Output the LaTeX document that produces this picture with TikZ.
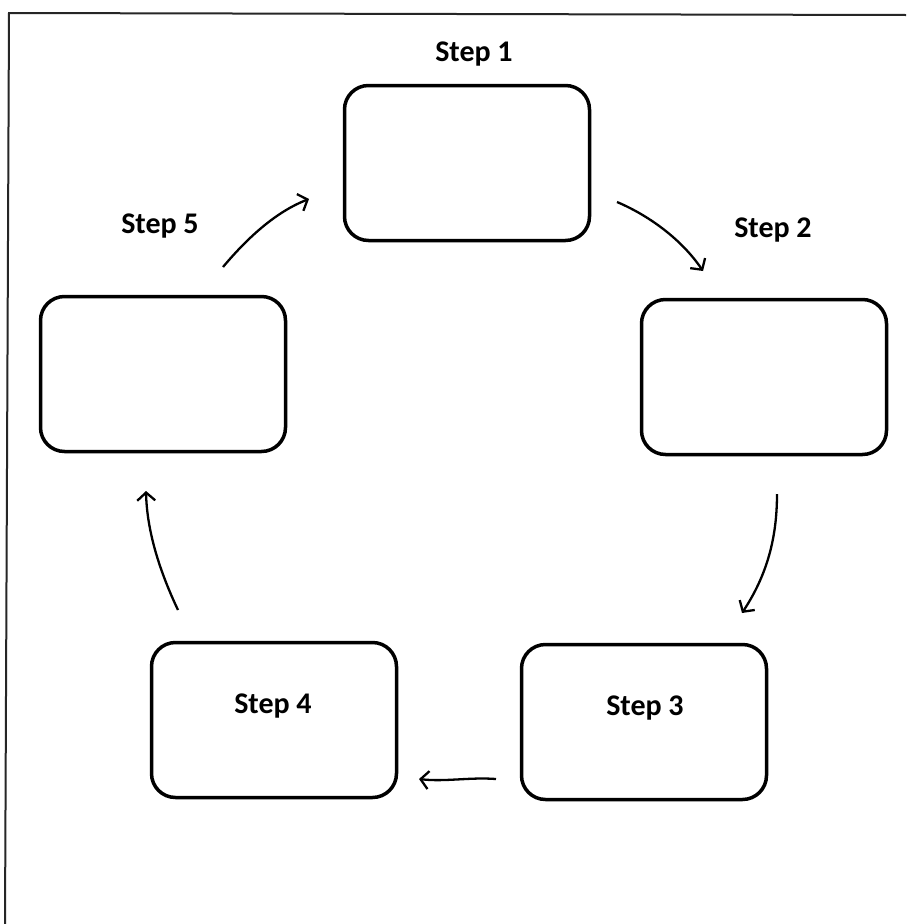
\documentclass[tikz,border=0pt]{standalone}
\usepackage{fontspec}
\setmainfont{Carlito}
\usetikzlibrary{arrows.meta}
\begin{document}
\begin{tikzpicture}[x=1pt,y=-1pt,
  stepbox/.style={draw=black,line width=3.5pt,rounded corners=24pt,minimum width=245pt,minimum height=155pt,inner sep=0pt},
  steplabel/.style={font=\bfseries\fontsize{30}{36}\selectfont,anchor=base,inner sep=0pt},
  flow/.style={line width=2.3pt,-{Straight Barb[length=8pt,width=18pt,line width=2.3pt]}},
  frame/.style={line width=2pt,draw=black!85}]
\useasboundingbox (0,0) rectangle (906,924);
\fill[white] (0,0) rectangle (906,924);
% frame (top and left edges only)
\coordinate (fTL) at (9,13);
\coordinate (fTR) at (906,15);
\coordinate (fBL) at (5,924);
\draw[frame] (fTR) -- (fTL) -- (fBL);
% boxes
\node[stepbox] (b1) at (467,163) {};
\node[stepbox] (b2) at (764,377) {};
\node[stepbox] (b3) at (644,722) {};
\node[stepbox] (b4) at (274,720) {};
\node[stepbox] (b5) at (163,374) {};
% labels
\node[steplabel] (l1) at (474,61) {Step 1};
\node[steplabel] (l2) at (773,237) {Step 2};
\node[steplabel] (l3) at (645,715) {Step 3};
\node[steplabel] (l4) at (273,713) {Step 4};
\node[steplabel] (l5) at (160,233) {Step 5};
% arrow end points
\coordinate (a12s) at (617,202);
\coordinate (a12e) at (703,271);
\coordinate (a23s) at (777,494);
\coordinate (a23e) at (742,613);
\coordinate (a34s) at (496,779);
\coordinate (a34e) at (419,779);
\coordinate (a45s) at (178,610);
\coordinate (a45e) at (146,491);
\coordinate (a51s) at (223,267);
\coordinate (a51e) at (309,199);
% arrows
\draw[flow] (a12s) .. controls (650,216) and (682,240) .. (a12e);
\draw[flow] (a23s) .. controls (777,538) and (767,575) .. (a23e);
\draw[flow] (a34s) .. controls (470,777) and (445,782) .. (a34e);
\draw[flow] (a45s) .. controls (160,572) and (147,532) .. (a45e);
\draw[flow] (a51s) .. controls (244,242) and (273,213) .. (a51e);
\end{tikzpicture}
\end{document}
